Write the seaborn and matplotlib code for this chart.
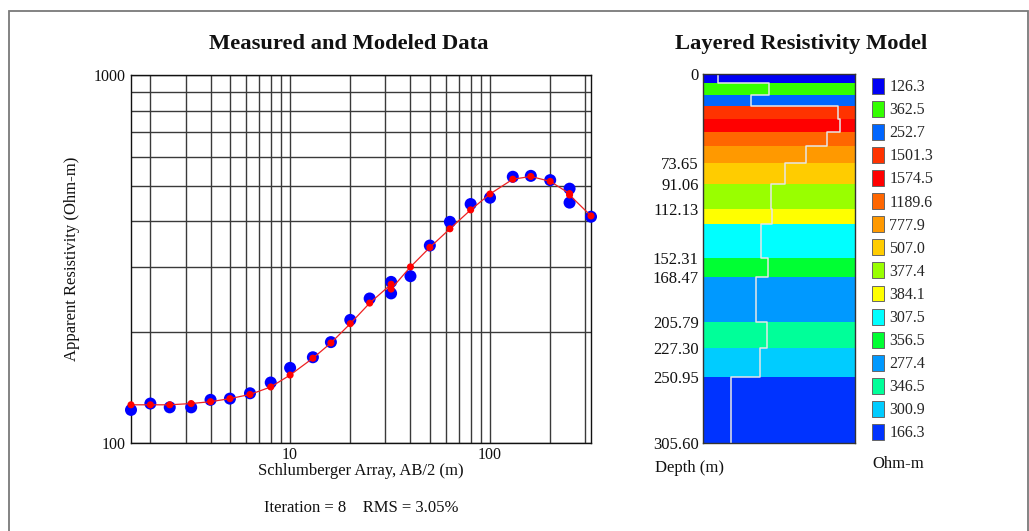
import numpy as np
import pandas as pd
import matplotlib
matplotlib.use("Agg")
import matplotlib.pyplot as plt
from matplotlib.patches import Patch, Rectangle
import seaborn as sns

sns.set_theme(style="white")
plt.rcParams['font.family'] = ['Liberation Serif', 'DejaVu Serif']

# Sounding curve: AB/2 spacing (m), measured and modeled apparent resistivity (Ohm-m)
ab2 = [1.6, 2, 2.5, 3.2, 4, 5, 6.3, 8, 10, 13, 16, 20, 25, 32, 32, 40, 50, 63, 80,
       100, 130, 160, 200, 250, 250, 320]
measured = [123, 128, 125, 125, 131, 132, 136.5, 146, 160, 171, 188, 216, 247, 274, 255,
            284, 344, 399, 446, 464, 529, 532, 518, 491, 450, 412]
modeled = [127, 127, 127, 128, 129.5, 132, 135.5, 142, 153, 170, 187, 211, 240, 270, 262,
           301, 340, 382, 430, 475, 521, 530, 514, 476, 472, 414]

# Layered model: top depth of each layer (m) and resistivity (Ohm-m)
layer_tops = [0, 7.2, 17.1, 26.3, 37.5, 47.8, 59.6, 73.65, 91.06, 112.13, 124.2,
              152.31, 168.47, 205.79, 227.30, 250.95]
max_depth = 305.60
layer_rho = [126.3, 362.5, 252.7, 1501.3, 1574.5, 1189.6, 777.9, 507.0, 377.4, 384.1,
             307.5, 356.5, 277.4, 346.5, 300.9, 166.3]
depth_labels = [0, 73.65, 91.06, 112.13, 152.31, 168.47, 205.79, 227.30, 250.95, 305.60]

iteration = 8
rms = 3.05

# colour steps, low to high resistivity (assigned by rank)
rank_palette = ['#0000F5', '#0033FF', '#0066FF', '#0099FF', '#00CCFF', '#00FFFF',
                '#00FF99', '#00FF33', '#33FF00', '#99FF00', '#FFFF00', '#FFCC00',
                '#FF9900', '#FF6600', '#FF3300', '#FF0000']

W, H = 1029, 531
fig = plt.figure(figsize=(W / 100, H / 100), dpi=100)

def fx(px):
    return px / W

def fy(py):
    return 1 - py / H

# ---- left: measured and modeled data ----
ax = fig.add_axes([fx(131), fy(443), fx(591) - fx(131), fy(75) - fy(443)])
df = pd.DataFrame({"ab2": ab2, "measured": measured, "modeled": modeled})

ax.set_xscale("log")
ax.set_yscale("log")
ax.set_xlim(1.6, 320)
ax.set_ylim(100, 1000)
ax.grid(True, which="both", color="#3a3a3a", linewidth=1.0)
ax.set_axisbelow(True)

sns.scatterplot(data=df, x="ab2", y="measured", ax=ax, color="#0000FF", s=75,
                edgecolor="none", zorder=3, clip_on=False)
sns.lineplot(data=df, x="ab2", y="modeled", ax=ax, color="#EE2222", linewidth=0.9,
             sort=False, estimator=None, zorder=4)
sns.scatterplot(data=df, x="ab2", y="modeled", ax=ax, color="#FF0000", s=26,
                edgecolor="none", zorder=5, clip_on=False)

ax.xaxis.set_major_locator(matplotlib.ticker.FixedLocator([10, 100]))
ax.xaxis.set_major_formatter(matplotlib.ticker.FixedFormatter(["10", "100"]))
ax.yaxis.set_major_locator(matplotlib.ticker.FixedLocator([100, 1000]))
ax.yaxis.set_major_formatter(matplotlib.ticker.FixedFormatter(["100", "1000"]))
ax.xaxis.set_minor_locator(matplotlib.ticker.LogLocator(base=10, subs=np.arange(2, 10)))
ax.yaxis.set_minor_locator(matplotlib.ticker.LogLocator(base=10, subs=np.arange(2, 10)))
ax.xaxis.set_minor_formatter(matplotlib.ticker.NullFormatter())
ax.yaxis.set_minor_formatter(matplotlib.ticker.NullFormatter())
ax.tick_params(which="both", length=0, labelsize=11.5, colors="#111111", pad=4)
ax.tick_params(axis="x", pad=3)
for s in ax.spines.values():
    s.set_color("#111111")
    s.set_linewidth(1.0)
ax.set_xlabel("Schlumberger Array, AB/2 (m)", fontsize=12, color="#111111", labelpad=0)
ax.set_ylabel("Apparent Resistivity (Ohm-m)", fontsize=12, color="#111111", labelpad=10)

fig.text(fx(348.5), fy(44), "Measured and Modeled Data", ha="center", va="center",
         fontsize=16.2, fontweight="bold", color="#111111")
fig.text(fx(361), fy(508), f"Iteration = {iteration}    RMS = {rms:.2f}%",
         ha="center", va="center", fontsize=12, color="#111111")

# ---- right: layered resistivity model ----
axm = fig.add_axes([fx(703), fy(443), fx(855) - fx(703), fy(74) - fy(443)])
axm.set_xscale("log")
rmin, rmax = min(layer_rho), max(layer_rho)
axm.set_xlim(rmin / 1.35, rmax * 1.35)
axm.set_ylim(max_depth, 0)

ranks = np.argsort(np.argsort(layer_rho))
colors = [rank_palette[r] for r in ranks]
bottoms = layer_tops[1:] + [max_depth]
for top, bot, c in zip(layer_tops, bottoms, colors):
    axm.axhspan(top, bot, color=c, linewidth=0)

step_x, step_y = [], []
for top, bot, rho in zip(layer_tops, bottoms, layer_rho):
    step_x += [rho, rho]
    step_y += [top, bot]
axm.plot(step_x, step_y, color="#E6E6E6", linewidth=1.1)

axm.set_xticks([])
axm.xaxis.set_minor_locator(matplotlib.ticker.NullLocator())
axm.set_yticks(depth_labels)
axm.set_yticklabels([f"{d:.2f}" if d > 0 else "0" for d in depth_labels])
axm.tick_params(axis="y", length=0, labelsize=12, colors="#111111", pad=3)
for s in axm.spines.values():
    s.set_color("#333333")
    s.set_linewidth(1.0)

fig.text(fx(655), fy(468), "Depth (m)", ha="left", va="center", fontsize=12,
         color="#111111")
fig.text(fx(801.5), fy(44), "Layered Resistivity Model", ha="center", va="center",
         fontsize=16.2, fontweight="bold", color="#111111")

handles = [Patch(facecolor=c, edgecolor="#666666", linewidth=0.7) for c in colors]
labels = [f"{r:.1f}" for r in layer_rho]
fig.legend(handles, labels, loc="upper left", bbox_to_anchor=(fx(867), fy(73)),
           frameon=False, fontsize=11.5, handlelength=0.75, handleheight=1.15,
           handletextpad=0.35, labelspacing=0.36, borderaxespad=0, borderpad=0.3)
fig.text(fx(872), fy(464), "Ohm-m", ha="left", va="center", fontsize=12,
         color="#111111")

# outer frame
fig.add_artist(Rectangle((fx(9), -0.1), fx(1028) - fx(9), fy(11) + 0.1,
                         transform=fig.transFigure, fill=False,
                         edgecolor="#7a7a7a", linewidth=1.3))

fig.savefig("out.png", dpi=100)
